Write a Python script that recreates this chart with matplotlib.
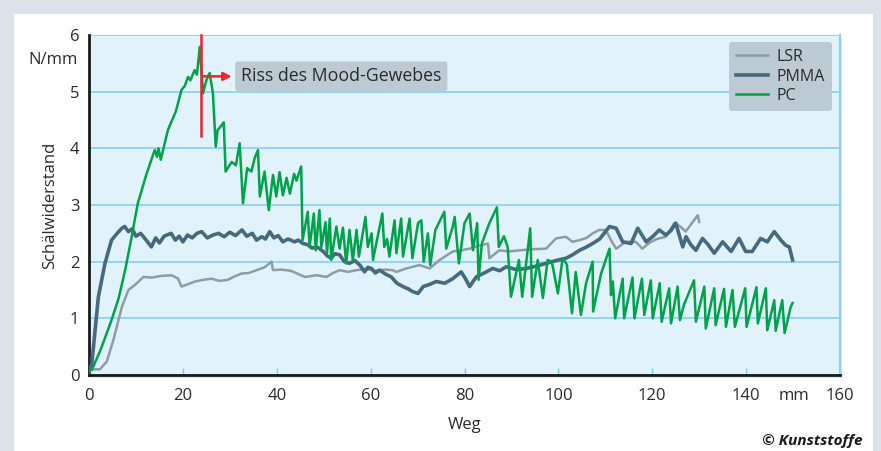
import matplotlib
matplotlib.use("Agg")
import matplotlib.pyplot as plt
from matplotlib.patches import Rectangle

plt.rcParams["font.family"] = ["Open Sans", "DejaVu Sans"]

# Weg (mm) / Schälwiderstand (N/mm)
pc_x = [0, 0.6, 2.5, 4.8, 6.3, 7.7, 9.0, 10.4, 12.3, 14.0, 14.5, 14.8, 15.3, 16.8, 17.2, 18.5,
        19.7, 20.4, 21.1, 21.6, 22.5, 23.0, 23.6, 24.3, 25.0, 25.7, 26.4, 27.0, 27.4, 28.2,
        28.7, 29.1, 30.4, 31.3, 32.1, 32.8, 33.7, 34.6, 35.3, 36.0, 36.4, 37.4, 38.3, 39.2,
        39.9, 40.6, 41.3, 42.1, 42.8, 43.7, 44.2, 45.2, 45.5,
        46.6, 47.0, 47.9, 48.3, 49.1, 49.5, 50.4, 50.7, 51.3, 51.6, 52.7, 53.4, 54.1, 54.8,
        55.5, 56.2, 57.0, 57.5, 58.9, 59.4, 60.2, 60.5, 62.5, 62.9, 63.5, 64.0, 65.1, 65.5,
        66.5, 66.9, 68.3, 68.9, 70.1, 70.8, 71.3, 72.2, 72.7, 73.8, 74.8, 75.7, 76.1, 77.5,
        77.9, 78.8, 80.0, 81.1, 81.8, 82.7, 83.0, 83.7, 85.3, 86.9, 87.3, 88.4, 89.2, 89.9,
        91.6, 92.3, 94.0, 94.4, 95.6, 96.7, 97.7, 98.6, 99.9, 100.9, 101.8, 102.9, 103.7,
        104.8, 105.9, 107.3, 107.4, 109.1, 110.9, 111.2, 111.6, 112.1, 113.7, 114.0, 115.8,
        116.2, 117.8, 118.3, 119.7, 120.1, 121.6, 122.0, 123.6, 124.0, 125.4, 125.9, 126.8,
        127.3, 128.9, 129.3, 131.1, 131.4, 133.2, 133.5, 135.3, 135.7, 137.1, 137.6, 139.8,
        140.1, 142.2, 142.5, 144.2, 144.5, 146.0, 146.3, 147.7, 148.2, 149.5, 149.9]
pc_y = [0.08, 0.09, 0.45, 0.97, 1.35, 1.85, 2.4, 3.03, 3.56, 3.97, 3.85, 4.0, 3.8, 4.32, 4.4, 4.65,
        5.03, 5.1, 5.26, 5.2, 5.38, 5.3, 5.79, 4.97, 5.2, 5.33, 4.97, 4.03, 4.32, 4.4,
        4.46, 3.59, 3.76, 3.7, 4.09, 3.03, 3.65, 3.59, 3.83, 3.97, 3.15, 3.59, 2.91, 3.53,
        3.15, 3.58, 3.17, 3.48, 3.2, 3.55, 3.43, 3.68, 2.38,
        2.88, 2.26, 2.85, 2.2, 2.91, 2.26, 2.7, 2.15, 2.76, 2.03, 2.62, 2.23, 2.6, 1.97,
        2.56, 2.03, 2.56, 2.09, 2.79, 2.26, 2.5, 2.03, 2.85, 2.26, 2.4, 2.09, 2.73, 2.15,
        2.76, 2.09, 2.76, 2.06, 2.68, 2.73, 2.0, 2.5, 1.94, 2.56, 2.73, 2.88, 2.23, 2.62,
        2.79, 1.97, 2.68, 2.85, 2.2, 2.68, 1.68, 2.32, 2.68, 2.96, 2.26, 2.45, 2.26, 1.38,
        2.03, 1.38, 2.59, 1.38, 2.03, 1.36, 2.03, 2.0, 1.44, 2.06, 1.95, 1.09, 1.82,
        1.06, 1.62, 2.0, 1.12, 1.79, 2.23, 1.41, 1.65, 1.0, 1.7, 1.0, 1.72,
        1.0, 1.7, 1.06, 1.67, 1.0, 1.62, 0.94, 1.53, 0.91, 1.56, 0.97, 1.25,
        1.35, 1.67, 0.94, 1.56, 0.82, 1.53, 0.88, 1.52, 0.85, 1.5, 0.85, 1.53,
        0.85, 1.55, 0.91, 1.53, 0.79, 1.32, 0.78, 1.32, 0.74, 1.2, 1.27]

pmma_x = [0, 0.6, 2.0, 3.4, 4.8, 6.0, 7.0, 7.6, 8.4, 9.2, 10.0, 11.0, 12.0, 13.3, 14.2, 15.0,
          16.0, 17.5, 18.4, 19.2, 20.0, 21.0, 22.0, 23.0, 24.0, 25.2, 26.4, 27.6, 28.8, 30.0,
          31.2, 32.6, 33.6, 34.8, 35.7, 36.8, 37.6, 38.5, 39.4, 40.3, 41.3, 42.4, 43.8, 44.6,
          45.6, 46.6, 47.5, 48.6, 49.9, 50.8, 51.6, 52.4, 53.4, 54.4, 55.5, 56.6, 57.7, 58.7,
          59.4, 60.2, 61.0, 61.9, 63.2, 64.4, 65.6, 66.9, 68.0, 69.0, 70.1, 71.2, 72.6, 74.0,
          75.8, 77.5, 79.3, 80.2, 81.1, 82.5, 84.2, 86.0, 87.5, 88.9, 91.0, 93.1, 95.2, 97.4,
          99.5, 101.6, 103.0, 104.5, 106.0, 107.3, 108.8, 110.9, 112.3, 113.7, 115.5, 116.9,
          118.7, 120.2, 121.5, 122.9, 124.0, 125.0, 126.5, 127.2, 128.2, 129.3, 130.7, 131.9,
          133.2, 135.0, 136.8, 138.5, 139.9, 141.3, 143.1, 144.5, 146.0, 147.4, 148.4, 149.2,
          149.9]
pmma_y = [0.05, 0.2, 1.38, 1.97, 2.38, 2.5, 2.59, 2.62, 2.53, 2.58, 2.45, 2.5, 2.4, 2.26, 2.42, 2.33,
          2.45, 2.5, 2.38, 2.45, 2.35, 2.47, 2.42, 2.5, 2.53, 2.42, 2.47, 2.5, 2.44, 2.52,
          2.46, 2.56, 2.45, 2.5, 2.38, 2.44, 2.4, 2.53, 2.42, 2.46, 2.35, 2.4, 2.35, 2.38,
          2.32, 2.3, 2.24, 2.26, 2.18, 2.1, 2.06, 2.14, 2.12, 2.0, 1.97, 2.02, 1.94, 1.82,
          1.9, 1.88, 1.8, 1.85, 1.78, 1.73, 1.62, 1.56, 1.52, 1.47, 1.44, 1.56, 1.6, 1.65,
          1.62, 1.7, 1.82, 1.7, 1.56, 1.73, 1.8, 1.88, 1.84, 1.91, 1.86, 1.88, 1.92, 1.97,
          2.02, 2.06, 2.12, 2.2, 2.26, 2.32, 2.4, 2.62, 2.59, 2.35, 2.32, 2.59,
          2.35, 2.45, 2.56, 2.47, 2.55, 2.68, 2.26, 2.44, 2.3, 2.2, 2.41, 2.3,
          2.15, 2.35, 2.18, 2.41, 2.18, 2.18, 2.41, 2.35, 2.53, 2.38, 2.29, 2.26,
          2.03]

lsr_x = [0, 0.6, 2.3, 3.8, 5.2, 7.0, 8.4, 9.8, 11.6, 13.4, 15.5, 17.6, 19.0, 19.7, 21.0, 22.6,
         24.4, 26.1, 27.8, 29.6, 31.0, 32.5, 34.0, 35.7, 37.4, 38.9, 39.2, 41.0, 43.0, 46.0,
         48.5, 50.6, 52.0, 53.4, 55.2, 57.0, 59.0, 61.0, 63.0, 64.7, 65.5, 67.6, 69.0, 70.4,
         72.6, 74.7, 76.0, 77.5, 79.3, 81.1, 83.0, 85.0, 85.3, 87.4, 89.5, 91.7, 94.5, 97.4,
         99.5, 101.6, 103.0, 104.5, 106.0, 107.3, 108.7, 110.1, 111.2, 112.3, 114.4, 116.5,
         117.9, 119.5, 121.0, 122.9, 124.7, 126.0, 127.1, 128.9, 129.7, 130.0]
lsr_y = [0.08, 0.1, 0.1, 0.24, 0.62, 1.2, 1.5, 1.59, 1.73, 1.72, 1.75, 1.76, 1.7, 1.56, 1.6, 1.65,
         1.68, 1.7, 1.66, 1.68, 1.74, 1.79, 1.8, 1.85, 1.9, 2.0, 1.85, 1.86, 1.84, 1.73,
         1.76, 1.73, 1.8, 1.85, 1.82, 1.85, 1.87, 1.84, 1.86, 1.85, 1.82, 1.88, 1.91, 1.94,
         1.88, 2.03, 2.1, 2.18, 2.2, 2.23, 2.28, 2.32, 2.06, 2.2, 2.18, 2.2, 2.22, 2.23,
         2.41, 2.44, 2.35, 2.38, 2.42, 2.5, 2.56, 2.56, 2.38, 2.23, 2.35, 2.35,
         2.23, 2.34, 2.4, 2.44, 2.68, 2.62, 2.53, 2.73, 2.82, 2.7]

x_ticks = [0, 20, 40, 60, 80, 100, 120, 140, 160]
y_ticks = [0, 1, 2, 3, 4, 5, 6]

txt = "#2b2b2b"
fig = plt.figure(figsize=(8.81, 4.51), dpi=100, facecolor="#dce3e8")
fig.patches.append(Rectangle((14 / 881, 0), 859 / 881, 437 / 451, transform=fig.transFigure,
                             facecolor="white", edgecolor="none", zorder=-5))
ax = fig.add_axes([89 / 881, 76 / 451, 751 / 881, 340 / 451])
ax.set_facecolor("#e1f2fa")
# faint drop shadow behind the plot area
fig.patches.append(Rectangle((90 / 881, 73 / 451), 752 / 881, 341 / 451, transform=fig.transFigure,
                             facecolor="#e3e7ea", edgecolor="none", zorder=-4))

ax.plot(lsr_x, lsr_y, color="#8e9ca4", lw=1.8, label="LSR", zorder=3)
ax.plot(pmma_x, pmma_y, color="#46697f", lw=2.6, label="PMMA", zorder=4)
ax.plot(pc_x, pc_y, color="#00a14b", lw=1.8, label="PC", zorder=5)

ax.set_xlim(0, 160)
ax.set_ylim(0, 6)
ax.set_xticks(x_ticks)
ax.set_yticks(y_ticks)
ax.set_xticklabels([str(t) for t in x_ticks], fontsize=12, color=txt)
ax.set_yticklabels([str(t) for t in y_ticks], fontsize=12, color=txt)
ax.tick_params(axis="x", direction="in", length=5, width=1, color="#7fcdea", pad=9)
ax.tick_params(axis="y", length=0, pad=7)
ax.yaxis.grid(True, color="#86d0ee", lw=1.2)
ax.set_axisbelow(True)
for s in ("left", "bottom"):
    ax.spines[s].set_color("#1a1a1a")
    ax.spines[s].set_linewidth(2)
ax.spines["top"].set_visible(False)
ax.spines["right"].set_color("#86d0ee")
ax.spines["right"].set_linewidth(1.5)

ax.text(-2.4, 5.55, "N/mm", ha="right", va="center", fontsize=12, color=txt)
ax.text(150.2, -0.37, "mm", ha="center", va="center", fontsize=12, color=txt, clip_on=False)
ax.set_xlabel("Weg", fontsize=12, color=txt, labelpad=10)
ax.set_ylabel("Schälwiderstand", fontsize=12, color=txt, labelpad=8)

# annotation
red = "#e8262b"
ax.plot([23.8, 23.8], [4.22, 6.0], color=red, lw=1.8, zorder=6, clip_on=False)
ax.annotate("", xy=(31.0, 5.27), xytext=(23.8, 5.27),
            arrowprops=dict(arrowstyle="-|>", color=red, lw=1.8, mutation_scale=12), zorder=6)
ax.text(32.4, 5.27, "Riss des Mood-Gewebes", ha="left", va="center", fontsize=12.8, color=txt,
        zorder=6, bbox=dict(boxstyle="round,pad=0.33,rounding_size=0.15",
                            facecolor="#bccbd3", edgecolor="none"))

leg = ax.legend(loc="upper right", bbox_to_anchor=(0.989, 0.98), borderaxespad=0, fontsize=11.5,
                frameon=True, fancybox=True, handlelength=2.0, handletextpad=0.5,
                labelspacing=0.22, borderpad=0.45)
leg.get_frame().set_facecolor("#bccbd3")
leg.get_frame().set_edgecolor("none")
leg.get_frame().set_alpha(1)
for t in leg.get_texts():
    t.set_color(txt)

fig.text(862 / 881, 1 - 441 / 451, "© Kunststoffe", ha="right", va="center", fontsize=11,
         fontweight="bold", fontstyle="italic", color="#1a1a1a")

fig.savefig("out.png", dpi=100, facecolor=fig.get_facecolor())
